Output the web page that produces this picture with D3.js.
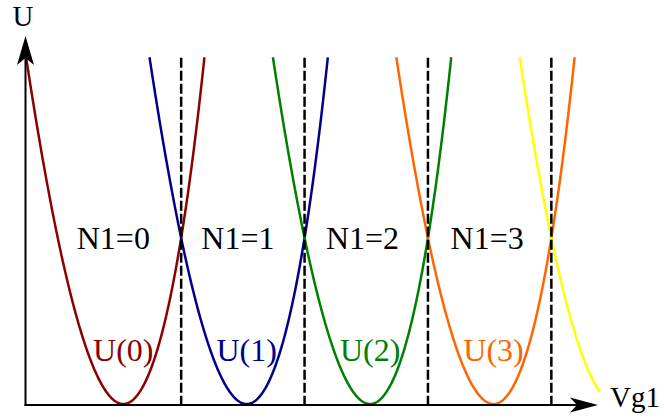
<!DOCTYPE html>
<html>
<head>
<meta charset="utf-8">
<script src="https://cdn.jsdelivr.net/npm/d3@7/dist/d3.min.js"></script>
<style>
html,body{margin:0;padding:0;background:#fff;}
svg{display:block;}
</style>
</head>
<body>
<svg id="chart" width="664" height="418"></svg>
<script>
// Charge states (parabola vertices in units of Vg1 spacing)
const levels = [0, 1, 2, 3, 4];
const curveColors = ["#8b0000", "#00008b", "#008000", "#ff6600", "#ffff00"];
const curveLabels = ["U(0)", "U(1)", "U(2)", "U(3)"];
const regionLabels = ["N1=0", "N1=1", "N1=2", "N1=3"];
const degeneracyPoints = [0.5, 1.5, 2.5, 3.5]; // Vg1 where U(N)=U(N+1)
const uTop = 0.522;       // upper cut of the curves
const yellowEnd = -0.134; // the U(4) curve only shows its left branch down to here
const skew = -0.125;      // slight slant of the drawn parabolas

const FONT = "'Liberation Serif', 'Times New Roman', Times, serif";
const svg = d3.select("#chart");
const x = d3.scaleLinear().domain([-0.8, 3.85]).range([24.6, 598.4]);
const y = d3.scaleLinear().domain([0, 0.554]).range([404, 36]);

function pt(N, t) { const u = t * t; return [x(N + t + skew * u), y(u)]; }
const line = d3.line().curve(d3.curveLinear);
const tMax = Math.sqrt(uTop);

svg.append("clipPath").attr("id", "clip").append("rect")
  .attr("x", 25.5).attr("y", 0).attr("width", 640).attr("height", 418);

const g = svg.append("g").attr("clip-path", "url(#clip)");
levels.forEach((N, i) => {
  const t1 = N === 4 ? yellowEnd : tMax;
  const pts = d3.range(-tMax, t1 + 1e-9, 0.004).map(t => pt(N, t));
  pts.push(pt(N, t1));
  g.append("path").attr("d", line(pts)).attr("fill", "none")
    .attr("stroke", curveColors[i]).attr("stroke-width", 2.5);
});

degeneracyPoints.forEach(v => {
  const xv = x(v + skew * 0.25);
  svg.append("line").attr("x1", xv).attr("x2", xv)
    .attr("y1", y(uTop) + 0.5).attr("y2", y(0) + 1)
    .attr("stroke", "#000").attr("stroke-width", 2.5)
    .attr("stroke-dasharray", "10,3");
});

const x0 = 25.5, yb = y(0) + 1;
svg.append("line").attr("x1", x0).attr("x2", x0).attr("y1", yb + 1).attr("y2", 50)
  .attr("stroke", "#000").attr("stroke-width", 2);
svg.append("line").attr("x1", x0 - 1).attr("x2", 585).attr("y1", yb).attr("y2", yb)
  .attr("stroke", "#000").attr("stroke-width", 2);
svg.append("path").attr("d", `M${x0},36 L${x0 + 8.5},65 L${x0},58 L${x0 - 8.5},65 Z`).attr("fill", "#000");
svg.append("path").attr("d", `M598,${yb} L570,${yb - 7.5} L577,${yb} L570,${yb + 7.5} Z`).attr("fill", "#000");

function txt(xp, yp, s, size, color, anchor) {
  return svg.append("text").attr("x", xp).attr("y", yp)
    .attr("text-anchor", anchor).attr("font-family", FONT)
    .attr("font-size", size).attr("fill", color).text(s);
}
txt(23, 26, "U", 29, "#000", "middle");
txt(610, 407, "Vg1", 29, "#000", "start");

regionLabels.forEach((s, i) => txt(x(i) - 10 + i * 1.2, 249, s, 32, "#000", "middle"));
curveLabels.forEach((s, i) => txt(x(i), 361, s, 32, curveColors[i], "middle"));
</script>
</body>
</html>
